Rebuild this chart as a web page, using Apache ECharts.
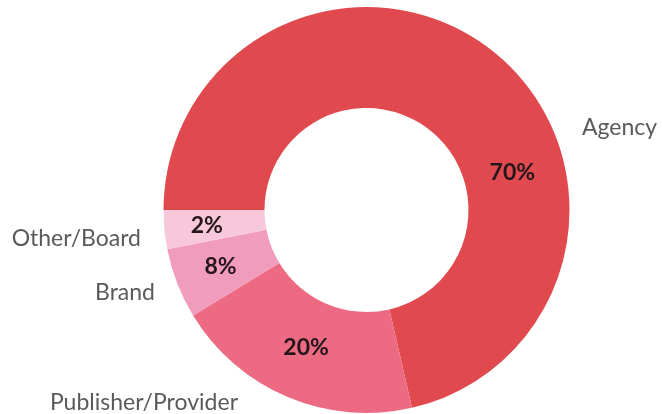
<!DOCTYPE html>
<html>
<head>
<meta charset="utf-8">
<style>
html,body{margin:0;padding:0;background:#fff;}
#chart{width:662px;height:414px;}
</style>
<script src="https://cdn.jsdelivr.net/npm/echarts@6/dist/echarts.min.js"></script>
</head>
<body>
<div id="chart"></div>
<script>
// Data (slice sizes; printed labels as shown)
var categories = ['Agency', 'Publisher/Provider', 'Brand', 'Other/Board'];
var shares = [71.4, 19.9, 5.6, 3.1];
var printedLabels = ['70%', '20%', '8%', '2%'];
var colors = ['#e04a4f', '#ec6b83', '#f29cbd', '#f7c7da'];

var chart = echarts.init(document.getElementById('chart'), null, {renderer: 'canvas'});

var data = categories.map(function (c, i) {
  return {name: c, value: shares[i], itemStyle: {color: colors[i]}};
});
var ghost = categories.map(function (c, i) {
  return {name: c, value: shares[i]};
});

// name label anchors (text positions, style only)
var nameLabelPos = [
  {x: 582, y: 128, align: 'left'},
  {x: 238, y: 403, align: 'right'},
  {x: 155, y: 293, align: 'right'},
  {x: 141, y: 239, align: 'right'}
];
var pctOffsets = [
  {dx: 49, dy: 84},
  {dx: 0, dy: -6},
  {dx: -1, dy: 0},
  {dx: -5, dy: 0}
];

chart.setOption({
  animation: false,
  backgroundColor: '#ffffff',
  series: [
    {
      type: 'pie',
      center: [366.5, 210],
      radius: [102, 203],
      startAngle: 180,
      clockwise: true,
      silent: true,
      data: data,
      label: {
        show: true,
        position: 'inside',
        formatter: function (p) { return printedLabels[p.dataIndex]; },
        color: '#24161a',
        fontFamily: 'Lato, "Open Sans", sans-serif',
        fontWeight: 'bold',
        fontSize: 23
      },
      labelLine: {show: false},
      labelLayout: function (p) {
        return pctOffsets[p.dataIndex];
      }
    },
    {
      type: 'pie',
      center: [366.5, 210],
      radius: [102, 203],
      startAngle: 180,
      clockwise: true,
      silent: true,
      data: ghost,
      itemStyle: {color: 'rgba(0,0,0,0)'},
      label: {
        show: true,
        position: 'outside',
        formatter: '{b}',
        overflow: 'none',
        color: '#5a5a5a',
        fontFamily: 'Lato, "Open Sans", sans-serif',
        fontSize: 23
      },
      labelLine: {show: false},
      labelLayout: function (p) {
        var q = nameLabelPos[p.dataIndex];
        return {x: q.x, y: q.y, align: q.align, verticalAlign: 'middle', width: 300};
      }
    }
  ]
});
</script>
</body>
</html>
